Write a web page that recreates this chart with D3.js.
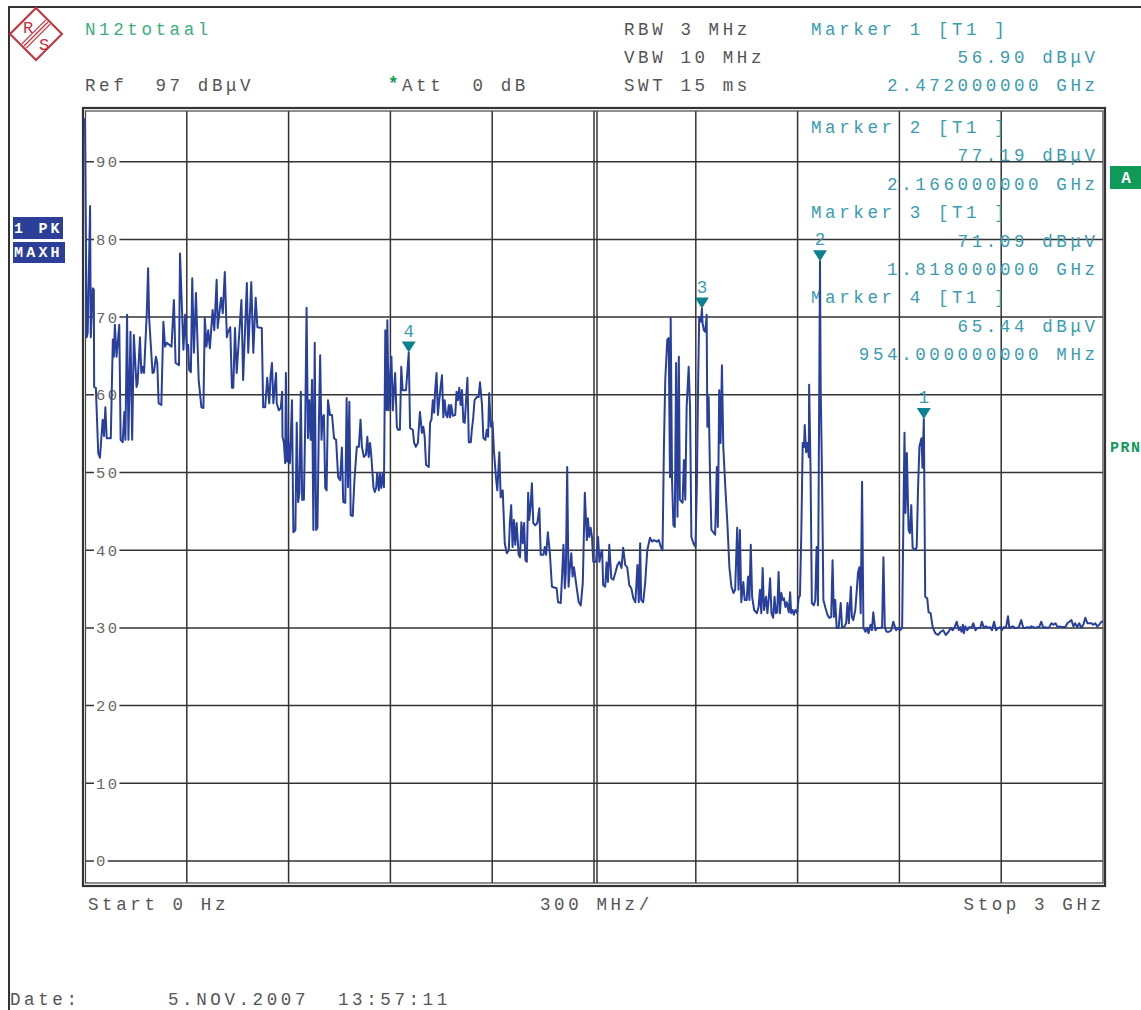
<!DOCTYPE html>
<html>
<head>
<meta charset="utf-8">
<script src="https://cdn.jsdelivr.net/npm/d3@7"></script>
<style>
body { margin: 0; background: #fff; }
svg { display: block; }
text { font-family: "Liberation Mono", monospace; white-space: pre; }
</style>
</head>
<body>
<div id="chart"></div>
<script>
// Spectrum analyzer screen: trace 1, max hold, 0 Hz .. 3 GHz

const levelTicks = [0, 10, 20, 30, 40, 50, 60, 70, 80, 90];
const freqDivs = [0, 300, 600, 900, 1200, 1500, 1800, 2100, 2400, 2700, 3000];

const settingsText = ["RBW 3 MHz", "VBW 10 MHz", "SWT 15 ms"];

const markerIds = [1, 2, 3, 4];
const markerFreqs = [2472, 2166, 1818, 954];
const markerLevels = [56.90, 77.19, 71.09, 65.44];
const markerFreqText = ["2.472000000 GHz", "2.166000000 GHz", "1.818000000 GHz", "954.000000000 MHz"];

// trace, [MHz, dBuV]
const trace0to600 = [
  [0,95.6],[3,78.2],[5,67.4],[8,68.0],[15,84.3],[17,67.4],[23,73.7],[26,73.5],[27,61.0],[32,60.9],[39,52.5],[44,51.9],
  [52,56.8],[56,54.7],[60,58.4],[64,54.4],[76,54.4],[82,67.1],[85,64.9],[88,69.0],[93,64.9],[101,69.0],[105,54.2],
  [111,53.9],[116,57.8],[119,54.2],[124,70.3],[128,54.2],[134,68.1],[139,54.2],[144,67.7],[152,61.0],[155,61.5],
  [162,67.4],[166,62.8],[170,63.6],[174,62.8],[182,70.5],[186,76.3],[189,69.9],[199,62.8],[203,62.9],[209,64.9],
  [213,64.1],[217,58.9],[225,58.7],[231,69.4],[236,66.2],[241,66.7],[255,66.2],[262,72.2],[267,64.1],[277,63.8],
  [280,78.2],[290,65.8],[295,70.3],[300,65.8],[304,66.4],[307,63.2],[312,62.9],[316,75.0],[321,65.4],[327,73.1],
  [335,61.9],[343,58.4],[349,58.3],[353,69.9],[358,66.2],[363,68.3],[368,66.0],[376,70.9],[381,68.3],[388,74.8],
  [391,68.6],[401,72.5],[406,70.5],[412,75.8],[418,67.4],[421,68.0],[428,68.7],[433,60.9],[437,60.9],[442,68.6],
  [447,62.8],[461,72.2],[466,61.9],[477,74.4],[481,65.4],[490,74.5],[496,65.4],[503,72.5],[508,68.7],[521,68.6],
  [525,58.4],[531,58.4],[537,62.2],[543,58.9],[547,62.5],[551,64.1],[555,58.9],[563,62.8],[565,58.9],[571,58.0],
  [577,58.3],[581,60.4],[582,54.6],[586,53.9],[590,51.2],[592,62.8],[596,51.4]
];

const trace600to1200 = [
  [600,53.8],[604,51.2],[610,59.3],[614,42.3],[620,42.6],[624,56.4],[628,46.2],[632,47.4],[636,60.4],[640,46.5],
  [645,46.5],[649,56.4],[653,71.2],[657,54.4],[661,59.3],[665,54.2],[669,61.9],[673,42.6],[677,66.7],[681,42.6],
  [685,42.9],[689,55.7],[693,65.1],[697,54.2],[700,57.1],[704,57.4],[708,48.0],[712,47.7],[716,59.3],[722,57.4],
  [728,57.4],[734,54.4],[740,54.2],[746,49.4],[752,49.0],[757,53.2],[761,46.2],[767,46.1],[771,59.6],[775,48.1],
  [779,59.1],[783,44.5],[789,44.4],[794,49.0],[801,53.3],[807,53.3],[812,56.8],[816,53.3],[822,52.0],[828,52.3],
  [832,54.6],[836,52.0],[840,53.8],[844,52.0],[850,48.1],[854,47.5],[858,48.0],[861,49.9],[866,47.7],[869,49.9],
  [873,48.0],[877,49.9],[881,48.1],[885,68.3],[889,58.0],[891,69.6],[895,58.0],[899,62.3],[903,64.9],[907,58.0],
  [911,60.9],[914,62.8],[919,55.9],[922,55.5],[928,55.5],[932,63.6],[936,60.6],[946,60.6],[954,65.4],[958,55.7],
  [966,55.5],[970,53.8],[975,53.3],[981,53.8],[987,57.8],[993,55.1],[997,55.9],[1001,54.6],[1005,51.0],[1013,50.7],
  [1017,56.4],[1021,56.8],[1025,59.3],[1029,57.7],[1032,60.6],[1036,62.8],[1040,57.4],[1044,59.3],[1048,61.0],
  [1052,62.5],[1056,57.1],[1060,59.3],[1064,57.4],[1068,57.1],[1072,58.7],[1076,57.1],[1079,58.7],[1084,57.3],
  [1091,57.4],[1095,60.4],[1099,59.3],[1103,60.9],[1107,58.7],[1111,60.6],[1115,56.5],[1119,56.4],[1123,59.3],
  [1127,62.2],[1131,53.9],[1137,53.9],[1140,55.5],[1144,57.0],[1148,59.3],[1154,59.7],[1160,59.7],[1164,61.6],
  [1170,58.7],[1174,54.4],[1180,54.2],[1184,55.5],[1188,54.6],[1191,60.2],[1196,55.9]
];

const trace1200to1800 = [
  [1201,56.5],[1205,52.9],[1211,49.4],[1215,47.7],[1221,52.6],[1225,46.8],[1231,47.7],[1237,40.9],[1243,39.6],
  [1249,40.0],[1252,43.5],[1256,45.8],[1260,40.4],[1264,43.9],[1268,40.7],[1272,43.5],[1278,39.4],[1282,39.1],
  [1286,43.6],[1290,40.9],[1294,43.5],[1298,38.7],[1302,38.5],[1306,47.4],[1309,43.9],[1313,45.6],[1317,48.6],
  [1321,43.5],[1327,43.2],[1333,43.5],[1339,45.4],[1343,39.4],[1351,39.4],[1355,40.4],[1359,39.4],[1364,42.3],
  [1370,39.6],[1376,35.3],[1390,35.1],[1394,33.3],[1402,33.2],[1406,36.8],[1410,40.7],[1414,35.1],[1417,37.1],
  [1421,50.7],[1425,35.3],[1429,37.8],[1433,39.6],[1437,36.6],[1441,37.8],[1447,35.8],[1455,33.3],[1461,32.9],
  [1467,35.8],[1473,47.4],[1479,41.3],[1482,44.1],[1486,41.7],[1490,42.9],[1494,41.7],[1498,38.5],[1506,38.5],
  [1508,39.8],[1512,41.7],[1516,38.5],[1520,39.6],[1524,40.0],[1527,35.5],[1533,35.3],[1537,38.4],[1541,35.9],
  [1545,40.7],[1551,36.4],[1557,36.2],[1563,37.1],[1569,38.1],[1575,38.5],[1581,37.7],[1586,40.3],[1592,38.1],
  [1598,37.8],[1604,35.5],[1610,35.1],[1616,33.8],[1622,33.3],[1628,38.1],[1632,33.3],[1636,40.9],[1639,33.6],
  [1645,33.3],[1651,35.9],[1657,40.0],[1665,41.6],[1671,41.1],[1677,41.3],[1685,41.1],[1691,41.3],[1697,40.4],
  [1702,40.0],[1706,53.2],[1710,61.9],[1716,67.1],[1720,67.3],[1724,49.4],[1726,69.9],[1730,49.0],[1734,43.2],
  [1738,43.0],[1742,64.1],[1746,44.3],[1750,64.9],[1753,46.5],[1761,46.1],[1765,51.6],[1769,46.5],[1773,58.4],
  [1779,63.6],[1783,58.4],[1787,41.7],[1793,40.9],[1799,40.4]
];

const trace1800to2400 = [
  [1803,48.1],[1807,61.9],[1810,70.0],[1815,69.4],[1818,71.1],[1820,69.2],[1824,68.3],[1828,68.1],[1832,70.3],
  [1834,55.9],[1838,59.7],[1842,49.3],[1846,42.6],[1857,42.0],[1862,50.7],[1865,43.0],[1869,60.6],[1873,53.8],
  [1877,63.8],[1881,53.3],[1887,48.1],[1893,43.5],[1899,37.8],[1905,35.3],[1911,34.5],[1916,34.9],[1922,42.9],
  [1926,34.9],[1930,42.6],[1934,33.3],[1940,35.9],[1944,33.6],[1950,33.6],[1954,36.6],[1958,33.6],[1962,40.7],
  [1966,34.0],[1972,32.3],[1980,31.9],[1985,32.7],[1989,34.9],[1993,31.9],[1997,37.7],[2001,32.3],[2007,34.0],
  [2011,31.9],[2015,33.8],[2019,36.4],[2023,31.9],[2028,31.3],[2032,34.0],[2036,31.9],[2040,32.0],[2044,37.2],
  [2048,31.9],[2052,34.5],[2056,33.6],[2060,33.8],[2064,32.7],[2068,33.3],[2074,32.0],[2078,34.6],[2081,31.9],
  [2085,32.3],[2089,31.7],[2093,32.3],[2099,31.9],[2103,33.8],[2107,34.2],[2111,42.3],[2115,53.8],[2119,53.3],
  [2121,56.1],[2125,52.6],[2129,53.8],[2133,52.0],[2134,61.3],[2138,50.7],[2142,33.2],[2148,32.9],[2152,33.6],
  [2156,40.4],[2160,32.9],[2166,77.2],[2168,61.0],[2172,49.4],[2176,33.6],[2182,32.6],[2188,31.7],[2193,31.3],
  [2199,31.4],[2203,38.7],[2207,31.4],[2211,33.6],[2215,30.0],[2221,30.0],[2227,33.2],[2231,30.1],[2237,30.1],
  [2243,30.6],[2247,33.2],[2251,30.6],[2257,35.3],[2260,31.4],[2264,31.0],[2270,32.3],[2274,34.6],[2278,37.1],
  [2282,37.8],[2286,31.9],[2290,48.8],[2294,30.0],[2300,29.5],[2305,30.0],[2309,29.3],[2315,30.4],[2319,29.7],
  [2323,32.0],[2329,29.7],[2335,30.0],[2343,30.0],[2349,30.1],[2353,39.1],[2357,30.1],[2362,29.5],[2370,29.5],
  [2376,29.7],[2382,30.8],[2390,29.7],[2396,30.0]
];

const trace2400to3000 = [
  [2402,29.7],[2408,30.0],[2412,44.8],[2415,55.1],[2418,44.8],[2422,52.5],[2427,42.6],[2431,42.2],[2435,45.8],
  [2439,40.3],[2447,40.0],[2451,40.4],[2455,48.1],[2459,53.3],[2465,54.4],[2468,50.6],[2472,56.9],[2476,34.0],
  [2482,33.8],[2486,32.0],[2492,31.9],[2498,30.1],[2506,29.3],[2514,29.1],[2522,29.5],[2529,29.7],[2537,29.1],
  [2545,29.5],[2551,30.0],[2557,29.7],[2563,30.1],[2569,30.8],[2575,29.7],[2579,30.1],[2583,29.5],[2587,30.4],
  [2590,29.3],[2594,30.2],[2600,29.7],[2606,30.1],[2612,30.0],[2618,30.6],[2624,29.7],[2630,30.0],[2638,30.0],
  [2643,30.8],[2649,30.0],[2655,30.2],[2661,30.0],[2667,30.1],[2673,29.7],[2679,30.8],[2685,29.7],[2691,30.0],
  [2697,30.1],[2702,29.7],[2708,30.1],[2714,30.0],[2720,31.5],[2724,30.0],[2728,30.1],[2734,30.2],[2740,30.0],
  [2746,30.0],[2752,30.1],[2759,31.0],[2765,30.0],[2771,30.0],[2777,30.1],[2783,30.0],[2789,30.2],[2795,30.1],
  [2801,30.0],[2807,30.1],[2812,30.1],[2818,30.8],[2824,30.0],[2830,30.1],[2836,30.0],[2842,30.1],[2848,30.6],
  [2854,30.4],[2860,30.6],[2866,30.1],[2871,30.2],[2877,30.1],[2883,30.1],[2889,30.1],[2895,30.6],[2901,30.8],
  [2907,31.0],[2913,30.2],[2918,30.6],[2924,30.1],[2930,30.6],[2936,30.0],[2942,30.4],[2948,31.3],[2954,30.6],
  [2960,30.6],[2966,30.6],[2971,30.4],[2977,30.6],[2983,30.2],[2989,30.4],[2995,30.8],[3000,30.8]
];

const width = 1141, height = 1010;
const plot = {left: 85, right: 1103, top: 111, bottom: 883};

const gray = "#555", teal = "#3a9cb0", green = "#0f9a5a", blue = "#28409c";

const x = d3.scaleLinear().domain([0, 3000]).range([85, 1103]);
const y = d3.scaleLinear().domain([-3, 97]).range([884.3, 107.3]);

const svg = d3.select("#chart").append("svg")
	.attr("width", width)
	.attr("height", height)
	.attr("viewBox", [0, 0, width, height]);

svg.append("rect").attr("width", width).attr("height", height).attr("fill", "#fff");

// screen border
svg.append("path")
	.attr("d", "M8,7H1141M9,7V1010")
	.attr("fill", "none")
	.attr("stroke", "#333")
	.attr("stroke-width", 2);

// R&S logo
let logo = svg.append("g").attr("transform", "translate(36,34)");
logo.append("path")
	.attr("d", "M0,-26L26,0L0,26L-26,0Z")
	.attr("fill", "none")
	.attr("stroke", "#c9303a")
	.attr("stroke-width", 2);
[-3, 0, 3].forEach(d => {
	let o = d * 0.707;
	logo.append("line")
		.attr("x1", -12 + o).attr("y1", 12 + o)
		.attr("x2", 12 + o).attr("y2", -12 + o)
		.attr("stroke", "#c9303a").attr("stroke-width", 1.3);
});
logo.append("text").attr("x", -8).attr("y", -1).attr("text-anchor", "middle")
	.attr("font-family", "Liberation Sans").attr("font-size", 17).attr("fill", "#c9303a").text("R");
logo.append("text").attr("x", 8).attr("y", 16).attr("text-anchor", "middle")
	.attr("font-family", "Liberation Sans").attr("font-size", 17).attr("fill", "#c9303a").text("S");

// grid
let grid = svg.append("g").attr("stroke", "#333").attr("stroke-width", 1.5);
grid.selectAll("line.v")
	.data(freqDivs.slice(1, -1))
	.join("line")
	.attr("class", "v")
	.attr("x1", d => x(d)).attr("x2", d => x(d))
	.attr("y1", plot.top).attr("y2", plot.bottom);
// centre line is doubled on this screen
grid.append("line")
	.attr("x1", x(1500) + 3).attr("x2", x(1500) + 3)
	.attr("y1", plot.top).attr("y2", plot.bottom);
grid.selectAll("line.h")
	.data(levelTicks)
	.join("line")
	.attr("class", "h")
	.attr("x1", plot.left).attr("x2", plot.right)
	.attr("y1", d => y(d)).attr("y2", d => y(d));

// level labels sit on the grid lines with a white gap
let yl = svg.append("g");
yl.selectAll("g")
	.data(levelTicks)
	.join("g")
	.each(function(d) {
		let g = d3.select(this);
		let bg = g.append("rect");
		let t = g.append("text")
			.attr("x", 96)
			.attr("y", y(d) + 5.5)
			.attr("font-size", 15.5)
			.attr("letter-spacing", 2.4)
			.attr("fill", "#666")
			.text(d);
		let w = t.node().getComputedTextLength();
		bg.attr("x", 94).attr("y", y(d) - 6).attr("width", w + 2).attr("height", 12).attr("fill", "#fff");
	});

// double frame
svg.append("rect")
	.attr("x", 83).attr("y", 108).attr("width", 1022).attr("height", 778)
	.attr("fill", "none").attr("stroke", "#333").attr("stroke-width", 2.2);
svg.append("rect")
	.attr("x", plot.left + 0.5).attr("y", plot.top).attr("width", plot.right - plot.left - 0.5).attr("height", plot.bottom - plot.top)
	.attr("fill", "none").attr("stroke", "#444").attr("stroke-width", 1.2);

// header and footer text
let txt = (xp, yp, s, col, anchor) => {
	let t = svg.append("text")
		.attr("x", anchor === "end" ? xp + 3.6 : xp)
		.attr("y", yp)
		.attr("font-size", 17.5)
		.attr("letter-spacing", 3.6)
		.attr("fill", col)
		.attr("text-anchor", anchor || "start")
		.text(s);
	return t;
};

txt(85, 35, "N12totaal", "#3aae80");
txt(85, 91, "Ref  97 dBμV", gray);
txt(388, 89, "*", green).attr("font-weight", "bold");
txt(402, 91, "Att  0 dB", gray);
settingsText.forEach((s, i) => txt(624, 35 + i * 28, s, gray));

markerIds.forEach((id, i) => {
	let base = i === 0 ? 35 : 133 + (i - 1) * 3 * 28.4;
	let step = i === 0 ? 28 : 28.4;
	txt(811, base, `Marker ${id} [T1 ]`, teal);
	txt(1095, base + step, `${markerLevels[i].toFixed(2)} dBμV`, teal, "end");
	txt(1095, base + 2 * step, markerFreqText[i], teal, "end");
});

txt(88, 910, "Start 0 Hz", gray);
txt(540, 910, "300 MHz/", gray);
txt(1101, 910, "Stop 3 GHz", gray, "end");
txt(10, 1005, "Date:", gray);
txt(168, 1005, "5.NOV.2007", gray);
txt(338, 1005, "13:57:11", gray);

// side badges
let badge = (bx, by, bw, bh, s, fill) => {
	svg.append("rect").attr("x", bx).attr("y", by).attr("width", bw).attr("height", bh).attr("fill", fill);
	svg.append("text")
		.attr("x", bx + 1)
		.attr("y", by + bh - 6)
		.attr("font-size", 15)
		.attr("font-weight", "bold")
		.attr("letter-spacing", 3.2)
		.attr("fill", "#fff")
		.text(s);
};
badge(13, 217, 50, 22, "1 PK", "#2b3f98");
badge(13, 242, 52, 21, "MAXH", "#2b3f98");
svg.append("rect").attr("x", 1110).attr("y", 166).attr("width", 31).attr("height", 23).attr("fill", green);
svg.append("text").attr("x", 1126).attr("y", 183).attr("text-anchor", "middle")
	.attr("font-size", 16).attr("font-weight", "bold").attr("fill", "#fff").text("A");
svg.append("text").attr("x", 1110).attr("y", 452)
	.attr("font-size", 15).attr("font-weight", "bold").attr("letter-spacing", 1.5)
	.attr("fill", green).text("PRN");

// trace
const trace = [].concat(trace0to600, trace600to1200, trace1200to1800, trace1800to2400, trace2400to3000);

svg.append("clipPath").attr("id", "clip")
	.append("rect").attr("x", 83).attr("y", plot.top).attr("width", plot.right - 83).attr("height", plot.bottom - plot.top);

let line = d3.line()
	.x(d => x(d[0]))
	.y(d => y(d[1]));

svg.append("path")
	.datum(trace)
	.attr("clip-path", "url(#clip)")
	.attr("d", line)
	.attr("fill", "none")
	.attr("stroke", blue)
	.attr("stroke-width", 2)
	.attr("stroke-linejoin", "round");

// markers
let mk = svg.append("g")
	.selectAll("g")
	.data(markerIds)
	.join("g")
	.attr("transform", (d, i) => `translate(${x(markerFreqs[i])},${y(markerLevels[i])})`);
mk.append("path")
	.attr("d", "M0,0L-7,-11L7,-11Z")
	.attr("fill", "#0b8190");
mk.append("text")
	.attr("y", -16)
	.attr("text-anchor", "middle")
	.attr("font-size", 17.5)
	.attr("fill", teal)
	.text(d => d);
</script>
</body>
</html>
